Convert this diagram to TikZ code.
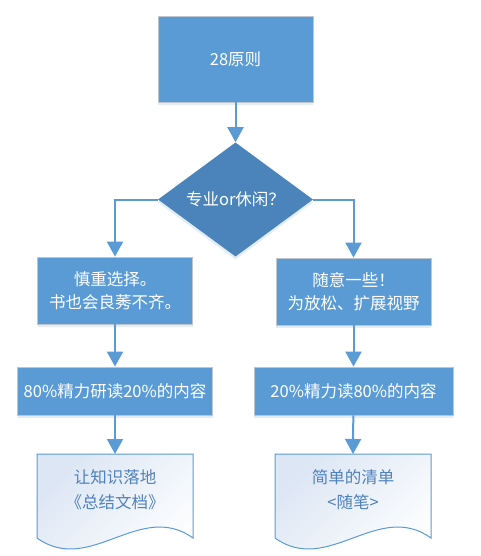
\documentclass[tikz,border=0pt]{standalone}
\usepackage{fontspec}
\newfontfamily\cjk{Noto Sans CJK SC}
\usetikzlibrary{shapes.geometric,arrows.meta,shadows}
\definecolor{boxblue}{HTML}{5B9BD5}
\definecolor{diablue}{HTML}{4A84BA}
\definecolor{edgegray}{HTML}{BFC5CC}
\definecolor{doctext}{HTML}{4F81BD}
\definecolor{docfill}{HTML}{DCE6F4}
\tikzset{
  flowbox/.style={draw=edgegray, line width=0.8pt, fill=boxblue, text=white,
    font=\cjk\fontsize{16.5}{22.5}\selectfont, align=center, inner sep=0pt,
    drop shadow={shadow xshift=0pt, shadow yshift=-3pt, opacity=0.25, fill=boxblue!70}},
  decision/.style={diamond, fill=diablue, text=white, font=\cjk\fontsize{16.5}{22}\selectfont,
    inner sep=0pt, minimum width=155pt, minimum height=93pt,
    drop shadow={shadow xshift=0pt, shadow yshift=-3pt, opacity=0.25, fill=boxblue!70}},
  docline/.style={draw=boxblue, line width=1pt, left color=docfill, right color=white, shading angle=45},
  notetext/.style={text=doctext, font=\cjk\fontsize{16.5}{25}\selectfont, align=center},
  flowarrow/.style={draw=boxblue, line width=2pt, -{Triangle[width=16pt,length=15pt]}}
}
\begin{document}
\begin{tikzpicture}[x=1pt,y=-1pt]
  \useasboundingbox (0,0) rectangle (481,556);
  % boxes
  \node[flowbox, minimum width=155pt, minimum height=86pt] (rule) at (235.5,59) {28原则};
  \node[decision] (kind) at (235.5,199.5) {专业or休闲？};
  \node[flowbox, minimum width=155pt, minimum height=67pt] (careful) at (115,290.5) {慎重选择。\\书也会良莠不齐。};
  \node[flowbox, minimum width=155pt, minimum height=67pt] (casual) at (353.5,291.5) {随意一些！\\为放松、扩展视野};
  \node[flowbox, minimum width=195pt, minimum height=48pt] (deep) at (115,391) {80\%精力研读20\%的内容};
  \node[flowbox, minimum width=199pt, minimum height=48pt] (light) at (353.5,391) {20\%精力读80\%的内容};
  % documents
  \draw[docline] (37,454) -- (193,454) -- (193,538)
    .. controls (140,500) and (90,576) .. (37,538) -- cycle;
  \draw[docline] (275,454) -- (431,454) -- (431,538)
    .. controls (378,500) and (328,576) .. (275,538) -- cycle;
  \coordinate (summaryTop) at (115,454);
  \coordinate (notesTop) at (353,454);
  \node[notetext] (summary) at (115,490) {让知识落地\\《总结文档》};
  \node[notetext] (notes) at (353,490) {简单的清单\\<随笔>};
  % arrows
  \draw[flowarrow] (rule) -- (kind.north);
  \draw[flowarrow] (kind.west) -| (careful.north);
  \draw[flowarrow] (kind.east) -| (casual.north);
  \draw[flowarrow] (careful) -- (deep);
  \draw[flowarrow] (casual) -- (light);
  \draw[flowarrow] (deep) -- (summaryTop);
  \draw[flowarrow] (light) -- (notesTop);
\end{tikzpicture}
\end{document}
